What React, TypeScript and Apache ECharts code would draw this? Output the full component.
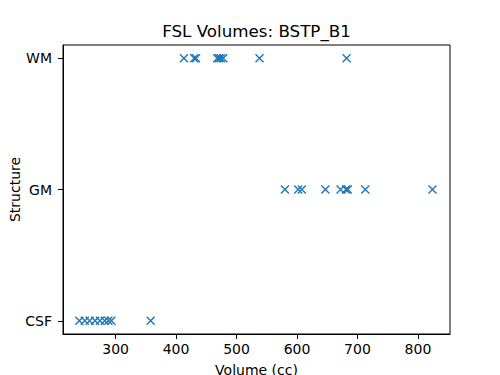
import React, { useEffect, useRef } from "react";
import * as echarts from "echarts";

const structures = ["CSF", "GM", "WM"];
const csfVolumes = [240, 249, 257, 266, 274, 282, 288, 293, 358];
const gmVolumes = [580, 602, 608, 647, 672, 681, 684, 713, 824];
const wmVolumes = [413, 430, 433, 468, 471, 474, 478, 538, 682];
const xTicks = [300, 400, 500, 600, 700, 800];
const title = "FSL Volumes: BSTP_B1";

const FONT = "DejaVu Sans";

export default function App() {
  const ref = useRef<HTMLDivElement>(null);
  useEffect(() => {
    document.body.style.margin = "0";
    if (!ref.current) return;
    const chart = echarts.init(ref.current, null, { renderer: "svg" });
    const groups = [csfVolumes, gmVolumes, wmVolumes];
    const data: number[][] = [];
    groups.forEach((vals, i) => vals.forEach((v) => data.push([v, i])));
    const axisLine = { show: true, onZero: false, lineStyle: { color: "#000", width: 1 } };
    chart.setOption({
      animation: false,
      textStyle: { fontFamily: FONT },
      graphic: [
        {
          type: "text",
          x: 256.5,
          y: 31,
          style: {
            text: title,
            fontFamily: FONT,
            fontSize: 16.7,
            fill: "#000",
            textAlign: "center",
            textVerticalAlign: "middle",
          },
        },
      ],
      grid: {
        left: 63,
        top: 45,
        width: 387,
        height: 289,
        show: true,
        borderColor: "#000",
        borderWidth: 1,
        backgroundColor: "transparent",
        containLabel: false,
        outerBoundsMode: "none",
      },
      xAxis: {
        type: "value",
        min: 213,
        max: 853,
        name: "Volume (cc)",
        nameLocation: "middle",
        nameGap: 29,
        nameMoveOverlap: false,
        nameTextStyle: { fontFamily: FONT, fontSize: 14, color: "#000" },
        axisLine,
        splitLine: { show: false },
        axisTick: {
          show: true,
          length: 5,
          lineStyle: { color: "#000" },
          customValues: xTicks,
        },
        axisLabel: {
          fontFamily: FONT,
          fontSize: 14,
          color: "#000",
          margin: 8,
          customValues: xTicks,
        },
      },
      yAxis: {
        type: "value",
        min: -0.1,
        max: 2.1,
        name: "Structure",
        nameLocation: "middle",
        nameGap: 41,
        nameRotate: 90,
        nameMoveOverlap: false,
        nameTextStyle: { fontFamily: FONT, fontSize: 14, color: "#000" },
        axisLine,
        splitLine: { show: false },
        axisTick: {
          show: true,
          length: 5,
          lineStyle: { color: "#000" },
          customValues: [0, 1, 2],
        },
        axisLabel: {
          fontFamily: FONT,
          fontSize: 14,
          color: "#000",
          margin: 11,
          customValues: [0, 1, 2],
          formatter: (v: number) => structures[Math.round(v)] ?? "",
        },
      },
      series: [
        {
          type: "scatter",
          data,
          symbol: "path://M0,0L10,10M10,0L0,10",
          symbolSize: 8,
          itemStyle: {
            color: "transparent",
            borderColor: "#1f77b4",
            borderWidth: 1.4,
            opacity: 1,
          },
        },
      ],
    });
    return () => chart.dispose();
  }, []);
  return <div ref={ref} style={{ width: 500, height: 375 }} />;
}
